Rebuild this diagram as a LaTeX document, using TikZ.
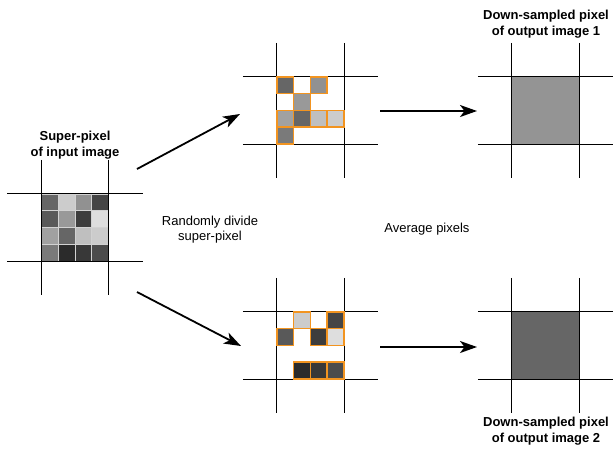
\documentclass[tikz,border=0pt]{standalone}
\usepackage{fontspec}
\setmainfont{Liberation Sans}
\usetikzlibrary{arrows.meta}
\usetikzlibrary{positioning}
\tikzset{pixel/.style = {draw = gray!35, line width = 0.5pt}}
\tikzset{picked/.style = {draw = morange, line width = 1.5pt}}
\definecolor{morange}{RGB}{242, 148, 32}
\newcommand{\crosslines}[1]{%
  \draw [gridline] ([xshift = -34pt]#1.north west) -- ([xshift = 34pt]#1.north east);
  \draw [gridline] ([xshift = -34pt]#1.south west) -- ([xshift = 34pt]#1.south east);
  \draw [gridline] ([yshift = 34pt]#1.north west) -- ([yshift = -34pt]#1.south west);
  \draw [gridline] ([yshift = 34pt]#1.north east) -- ([yshift = -34pt]#1.south east);}

\begin{document}
\begin{tikzpicture}[x = 1pt, y = -1pt,
    gridline/.style = {line width = 1.1pt},
    sq/.style = {minimum size = 67pt, inner sep = 0},
    flow/.style = {line width = 1.8pt, -{Stealth[length = 17pt, width = 12pt, inset = 4.5pt]}},
    title/.style = {font = \bfseries\fontsize{13}{16}\selectfont, align = center},
    note/.style = {font = \fontsize{13}{15}\selectfont, align = center}]
    \useasboundingbox (0, 0) rectangle (613, 448);

    \node [sq] (in) at (75, 227.5) {};
    \node [sq] (div1) at (310.5, 110.5) {};
    \node [sq] (div2) at (310.5, 345.5) {};
    \node [sq, fill = black!42] (out1) at (545.5, 110.5) {};
    \node [sq, fill = black!60] (out2) at (545.5, 345.5) {};

    \begin{scope}[shift = {(in.north west)}]
      \foreach \r/\c/\v in {1/1/60, 1/2/20, 1/3/43, 1/4/73, 2/1/65, 2/2/40, 2/3/76, 2/4/13,
                            3/1/37, 3/2/60, 3/3/25, 3/4/20, 4/1/52, 4/2/83, 4/3/78, 4/4/70}
        \filldraw [pixel, fill = black!\v] ({(\c-1)*16.75}, {(\r-1)*16.75}) rectangle +(16.75, 16.75);
    \end{scope}

    \crosslines{in}
    \crosslines{div1}
    \crosslines{div2}
    \crosslines{out1}
    \crosslines{out2}

    \begin{scope}[shift = {(div1.north west)}]
      \foreach \r/\c/\v in {1/1/60, 1/3/43, 2/2/40, 3/1/37, 3/2/60, 3/3/25, 3/4/20, 4/1/52}
        \filldraw [picked, fill = black!\v] ({(\c-1)*16.75}, {(\r-1)*16.75}) rectangle +(16.75, 16.75);
    \end{scope}
    \begin{scope}[shift = {(div2.north west)}]
      \foreach \r/\c/\v in {1/2/20, 1/4/73, 2/1/65, 2/3/76, 2/4/13, 4/2/83, 4/3/78, 4/4/70}
        \filldraw [picked, fill = black!\v] ({(\c-1)*16.75}, {(\r-1)*16.75}) rectangle +(16.75, 16.75);
    \end{scope}

    \coordinate (split1s) at (137, 169);
    \coordinate (split1e) at (240, 114);
    \coordinate (split2s) at (137, 292);
    \coordinate (split2e) at (241, 346);
    \coordinate (avg1s) at (380, 111);
    \coordinate (avg1e) at (477, 111);
    \coordinate (avg2s) at (380, 347);
    \coordinate (avg2e) at (477, 347);
    \draw [flow] (split1s) -- (split1e);
    \draw [flow] (split2s) -- (split2e);
    \draw [flow] (avg1s) -- (avg1e);
    \draw [flow] (avg2s) -- (avg2e);

    \node [title] (inlabel) at (75, 145) {Super-pixel\\of input image};
    \node [note] (splitlabel) at (210, 229.5) {Randomly divide\\super-pixel};
    \node [note] (avglabel) at (427, 229) {Average pixels};
    \node [title] (out1label) at (546, 24) {Down-sampled pixel\\of output image 1};
    \node [title] (out2label) at (546, 431) {Down-sampled pixel\\of output image 2};
  \end{tikzpicture}
\end{document}
